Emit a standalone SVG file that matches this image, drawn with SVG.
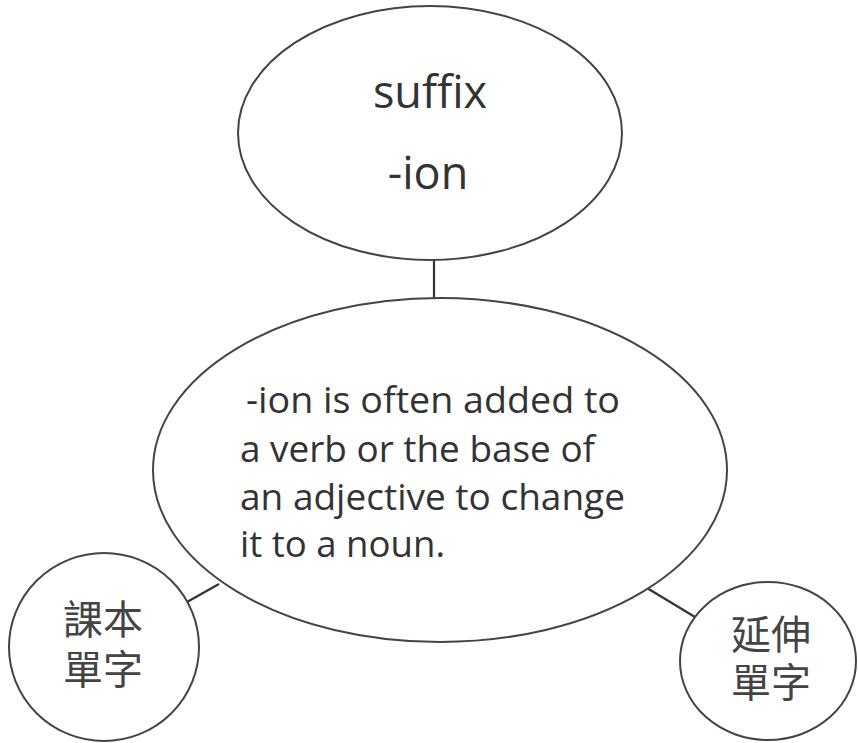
<svg xmlns="http://www.w3.org/2000/svg" width="858" height="743" viewBox="0 0 858 743">
  <style>
    .shape { fill: #ffffff; stroke: #444444; stroke-width: 2; }
    .conn { stroke: #333333; stroke-width: 2.2; fill: none; }
    .lat { font-family: "Open Sans", "Liberation Sans", sans-serif; fill: #333333; }
    .cjk { font-family: "Noto Sans CJK TC", "Noto Sans CJK SC", sans-serif; fill: #444444; font-size: 40px; text-anchor: middle; }
  </style>
  <rect width="858" height="743" fill="#ffffff"/>
  <g id="connectors">
    <line class="conn" x1="434" y1="260" x2="434" y2="299"/>
    <line class="conn" x1="187" y1="602" x2="219" y2="584"/>
    <line class="conn" x1="647" y1="588" x2="695" y2="617"/>
  </g>
  <g id="node-suffix">
    <ellipse class="shape" cx="430" cy="133" rx="192" ry="127"/>
    <text class="lat" x="430" y="108" font-size="45" text-anchor="middle">suffix</text>
    <text class="lat" x="428" y="189" font-size="45" text-anchor="middle">-ion</text>
  </g>
  <g id="node-definition">
    <ellipse class="shape" cx="440" cy="470" rx="287" ry="172"/>
    <text class="lat" font-size="37">
      <tspan x="246" y="413" textLength="374" lengthAdjust="spacingAndGlyphs">-ion is often added to</tspan>
      <tspan x="240" y="462" textLength="355" lengthAdjust="spacingAndGlyphs">a verb or the base of</tspan>
      <tspan x="240" y="510" textLength="385" lengthAdjust="spacingAndGlyphs">an adjective to change</tspan>
      <tspan x="240" y="557" textLength="205" lengthAdjust="spacingAndGlyphs">it to a noun.</tspan>
    </text>
  </g>
  <g id="node-textbook">
    <ellipse class="shape" cx="104" cy="647" rx="95" ry="94"/>
    <text class="cjk"><tspan x="103" y="634">課本</tspan><tspan x="103" y="684">單字</tspan></text>
  </g>
  <g id="node-extended">
    <ellipse class="shape" cx="768" cy="661" rx="88" ry="79"/>
    <text class="cjk"><tspan x="771" y="649">延伸</tspan><tspan x="771" y="697">單字</tspan></text>
  </g>
</svg>
